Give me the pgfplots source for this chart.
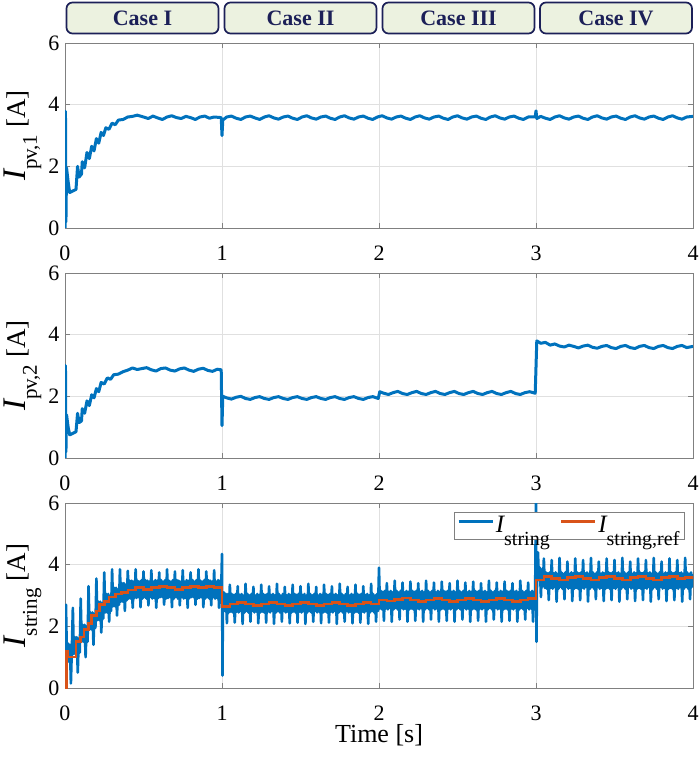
\documentclass[border=0pt]{standalone}
\usepackage{fontspec}
\setmainfont{Liberation Serif}
\usepackage{pgfplots}
\pgfplotsset{compat=1.18}
\definecolor{mblue}{RGB}{0,114,189}
\definecolor{morange}{RGB}{217,83,25}
\definecolor{boxfill}{RGB}{236,242,224}
\definecolor{boxdraw}{RGB}{28,32,88}
\newcommand{\ylab}[1]{{\fontsize{33}{33}\selectfont\itshape I}\raisebox{-11pt}{\fontsize{21}{21}\selectfont #1}\hspace{7pt}{\fontsize{27}{27}\selectfont [A]}}
\newcommand{\leg}[1]{{\fontsize{25}{25}\selectfont\itshape I}\raisebox{-13pt}{\fontsize{20}{20}\selectfont #1}}
\begin{document}
\begin{tikzpicture}[x=1pt,y=1pt]
\useasboundingbox (0,0) rectangle (699,762);
% Case boxes
\foreach \cx/\lab in {142.5/Case I, 300.5/Case II, 458.5/Case III, 616/Case IV}{
 \node[draw=boxdraw, line width=1.7pt, fill=boxfill, rounded corners=6pt,
       minimum width=152pt, minimum height=31pt, inner sep=0pt,
       text=boxdraw, font=\rmfamily\fontsize{22}{22}\selectfont\bfseries] at (\cx pt,744pt) {\lab};
}
% ---------------- top axis
\begin{axis}[scale only axis, width=628pt, height=185pt, anchor=south west, at={(65pt,534pt)},
  xmin=0,xmax=4,ymin=0,ymax=6, xtick={0,1,2,3,4}, ytick={0,2,4,6},
  grid=major, major grid style={black!12, line width=0.7pt},
  axis line style={black!50, line width=0.9pt}, tick style={black!50, line width=0.9pt},
  major tick length=5pt,
  x tick label style={font=\rmfamily\fontsize{22}{22}\selectfont, yshift=-14pt},
  y tick label style={font=\rmfamily\fontsize{22}{22}\selectfont, xshift=-2pt},
  ylabel={\ylab{pv,1}},
  ylabel style={at={(axis description cs:-0.0621,0.5)}, anchor=base},
  /pgf/number format/assume math mode=true]
\addplot[mblue, line width=3pt, line join=round] coordinates {
(0,0)(0.003,3.78)(0.006,0.2)(0.01,1.95)(0.02,1.5)(0.03,1.15)(0.05,1.2)(0.07,1.25)
(0.08,2.0)(0.09,1.65)(0.105,1.75)(0.11,2.15)(0.125,1.95)(0.14,2.45)(0.155,2.25)
(0.17,2.65)(0.185,2.5)(0.2,2.9)(0.215,2.75)(0.23,3.1)(0.245,3.0)(0.26,3.25)(0.28,3.2)
(0.3,3.4)(0.32,3.35)(0.34,3.5)(0.37,3.52)(0.4,3.6)(0.43,3.62)(0.46,3.66)
(0.5,3.6)(0.53,3.55)(0.56,3.63)(0.59,3.57)(0.62,3.52)(0.65,3.6)(0.68,3.64)(0.71,3.58)
(0.74,3.55)(0.77,3.62)(0.8,3.58)(0.83,3.52)(0.86,3.6)(0.89,3.63)(0.92,3.56)(0.95,3.6)
(0.995,3.58)(1.0,3.0)(1.005,3.5)(1.03,3.6)(1.06,3.63)(1.09,3.56)(1.12,3.52)(1.15,3.6)
(1.18,3.63)(1.21,3.57)(1.24,3.52)(1.27,3.6)(1.3,3.64)(1.33,3.57)(1.36,3.53)(1.39,3.6)
(1.42,3.63)(1.45,3.56)(1.48,3.52)(1.51,3.6)(1.54,3.64)(1.57,3.57)(1.6,3.53)(1.63,3.6)
(1.66,3.63)(1.69,3.56)(1.72,3.52)(1.75,3.6)(1.78,3.64)(1.81,3.57)(1.84,3.53)(1.87,3.6)
(1.9,3.63)(1.93,3.56)(1.96,3.52)(1.99,3.6)(2.02,3.64)(2.05,3.57)(2.08,3.53)(2.11,3.6)
(2.14,3.63)(2.17,3.56)(2.2,3.52)(2.23,3.6)(2.26,3.64)(2.29,3.57)(2.32,3.53)(2.35,3.6)
(2.38,3.63)(2.41,3.56)(2.44,3.52)(2.47,3.6)(2.5,3.64)(2.53,3.57)(2.56,3.53)(2.59,3.6)
(2.62,3.63)(2.65,3.56)(2.68,3.52)(2.71,3.6)(2.74,3.64)(2.77,3.57)(2.8,3.53)(2.83,3.6)
(2.86,3.63)(2.89,3.56)(2.92,3.52)(2.95,3.6)(2.995,3.6)(3.0,3.8)(3.005,3.55)(3.03,3.62)
(3.06,3.56)(3.09,3.52)(3.12,3.6)(3.15,3.64)(3.18,3.57)(3.21,3.53)(3.24,3.6)(3.27,3.63)
(3.3,3.56)(3.33,3.52)(3.36,3.6)(3.39,3.64)(3.42,3.57)(3.45,3.53)(3.48,3.6)(3.51,3.63)
(3.54,3.56)(3.57,3.52)(3.6,3.6)(3.63,3.64)(3.66,3.57)(3.69,3.53)(3.72,3.6)(3.75,3.63)
(3.78,3.56)(3.81,3.52)(3.84,3.6)(3.87,3.64)(3.9,3.57)(3.93,3.53)(3.96,3.6)(4.0,3.62)
};
\end{axis}
% ---------------- middle axis
\begin{axis}[scale only axis, width=628pt, height=185pt, anchor=south west, at={(65pt,304pt)},
  xmin=0,xmax=4,ymin=0,ymax=6, xtick={0,1,2,3,4}, ytick={0,2,4,6},
  grid=major, major grid style={black!12, line width=0.7pt},
  axis line style={black!50, line width=0.9pt}, tick style={black!50, line width=0.9pt},
  major tick length=5pt,
  x tick label style={font=\rmfamily\fontsize{22}{22}\selectfont, yshift=-14pt},
  y tick label style={font=\rmfamily\fontsize{22}{22}\selectfont, xshift=-2pt},
  ylabel={\ylab{pv,2}},
  ylabel style={at={(axis description cs:-0.0621,0.5)}, anchor=base},
  /pgf/number format/assume math mode=true]
\addplot[mblue, line width=3pt, line join=round] coordinates {
(0,0)(0.003,3.0)(0.006,0.2)(0.01,1.4)(0.02,1.0)(0.03,0.75)(0.05,0.8)(0.07,0.85)
(0.08,1.45)(0.09,1.15)(0.105,1.2)(0.11,1.6)(0.125,1.45)(0.14,1.85)(0.155,1.7)
(0.17,2.05)(0.185,1.95)(0.2,2.25)(0.215,2.15)(0.23,2.45)(0.25,2.4)(0.27,2.6)(0.29,2.55)
(0.31,2.7)(0.34,2.72)(0.37,2.8)(0.4,2.85)(0.43,2.92)(0.46,2.87)(0.49,2.9)(0.52,2.93)
(0.55,2.86)(0.58,2.82)(0.61,2.9)(0.64,2.92)(0.67,2.85)(0.7,2.82)(0.73,2.89)(0.76,2.92)
(0.79,2.85)(0.82,2.81)(0.85,2.88)(0.88,2.91)(0.91,2.84)(0.94,2.81)(0.97,2.88)(0.995,2.86)
(1.0,1.05)(1.005,2.0)(1.03,1.95)(1.06,1.91)(1.09,1.97)(1.12,2.0)(1.15,1.93)(1.18,1.9)
(1.21,1.96)(1.24,1.99)(1.27,1.93)(1.3,1.9)(1.33,1.96)(1.36,1.99)(1.39,1.93)(1.42,1.9)
(1.45,1.96)(1.48,1.99)(1.51,1.93)(1.54,1.9)(1.57,1.96)(1.6,1.99)(1.63,1.93)(1.66,1.9)
(1.69,1.96)(1.72,1.99)(1.75,1.93)(1.78,1.9)(1.81,1.96)(1.84,1.99)(1.87,1.93)(1.9,1.9)
(1.93,1.96)(1.96,1.99)(1.995,1.93)(2.005,2.15)(2.03,2.1)(2.06,2.06)(2.09,2.12)(2.12,2.16)
(2.15,2.09)(2.18,2.06)(2.21,2.12)(2.24,2.16)(2.27,2.09)(2.3,2.06)(2.33,2.12)(2.36,2.16)
(2.39,2.09)(2.42,2.06)(2.45,2.12)(2.48,2.16)(2.51,2.09)(2.54,2.06)(2.57,2.12)(2.6,2.16)
(2.63,2.09)(2.66,2.06)(2.69,2.12)(2.72,2.16)(2.75,2.09)(2.78,2.06)(2.81,2.12)(2.84,2.16)
(2.87,2.09)(2.9,2.06)(2.93,2.12)(2.96,2.15)(2.995,2.1)(3.005,3.8)(3.03,3.72)(3.06,3.75)
(3.09,3.66)(3.12,3.7)(3.15,3.63)(3.18,3.6)(3.21,3.66)(3.24,3.62)(3.27,3.57)(3.3,3.63)
(3.33,3.66)(3.36,3.59)(3.39,3.56)(3.42,3.62)(3.45,3.65)(3.48,3.58)(3.51,3.55)(3.54,3.62)
(3.57,3.65)(3.6,3.58)(3.63,3.55)(3.66,3.62)(3.69,3.65)(3.72,3.58)(3.75,3.55)(3.78,3.62)
(3.81,3.65)(3.84,3.58)(3.87,3.55)(3.9,3.62)(3.93,3.65)(3.96,3.58)(4.0,3.62)
};
\end{axis}
% ---------------- bottom axis
\begin{axis}[scale only axis, width=628pt, height=185pt, anchor=south west, at={(65pt,74pt)},
  xmin=0,xmax=4,ymin=0,ymax=6, xtick={0,1,2,3,4}, ytick={0,2,4,6},
  grid=major, major grid style={black!12, line width=0.7pt},
  axis line style={black!50, line width=0.9pt}, tick style={black!50, line width=0.9pt},
  major tick length=5pt,
  x tick label style={font=\rmfamily\fontsize{22}{22}\selectfont, yshift=-14pt},
  y tick label style={font=\rmfamily\fontsize{22}{22}\selectfont, xshift=-2pt},
  ylabel={\ylab{string}},
  ylabel style={at={(axis description cs:-0.0621,0.5)}, anchor=base},
  xlabel={Time [s]},
  xlabel style={at={(axis description cs:0.5,-0.254)}, anchor=center, font=\rmfamily\fontsize{26}{26}\selectfont},
  legend columns=2,
  legend style={at={(0.987,0.953)}, anchor=north east, draw=black!50, line width=0.8pt,
     fill=white, inner xsep=3pt, inner ysep=2.5pt, font=\rmfamily\fontsize{20}{20}\selectfont,
     /tikz/every even column/.append style={column sep=8pt}},
  legend image code/.code={\draw[#1, line width=2.6pt] (0pt,4pt) -- (34pt,4pt);},
  /pgf/number format/assume math mode=true]
\addplot[mblue, line width=2.6pt, line join=round] coordinates {
(0,0)(0.00625,2.7)(0.0125,0.9)(0.01875,1.45)(0.025,0.85)(0.03125,1.4)(0.0375,0.15)(0.04375,1.3)
(0.05,2.6)(0.05625,1.1)(0.0625,1.65)(0.06875,1.1)(0.075,1.65)(0.08125,0.5)(0.0875,1.6)(0.09375,1.15)
(0.1,2.9)(0.10625,1.5)(0.1125,2.05)(0.11875,1.5)(0.125,2.05)(0.13125,1.0)(0.1375,2.0)(0.14375,1.5)
(0.15,3.3)(0.15625,1.9)(0.1625,2.45)(0.16875,1.9)(0.175,2.45)(0.18125,1.4)(0.1875,2.4)(0.19375,1.95)
(0.2,3.55)(0.20625,2.2)(0.2125,2.8)(0.21875,2.2)(0.225,2.8)(0.23125,1.8)(0.2375,2.75)(0.24375,2.25)
(0.25,3.75)(0.25625,2.45)(0.2625,3.05)(0.26875,2.45)(0.275,3.05)(0.28125,2.15)(0.2875,3.0)(0.29375,2.5)
(0.3,3.85)(0.30625,2.65)(0.3125,3.25)(0.31875,2.65)(0.325,3.25)(0.33125,2.35)(0.3375,3.2)(0.34375,2.7)
(0.35,3.85)(0.35625,2.8)(0.3625,3.4)(0.36875,2.8)(0.375,3.4)(0.38125,2.5)(0.3875,3.35)(0.39375,2.85)
(0.4,3.8)(0.40625,2.9)(0.4125,3.48)(0.41875,2.9)(0.425,3.48)(0.43125,2.6)(0.4375,3.45)(0.44375,2.92)
(0.45,3.85)(0.45625,2.92)(0.4625,3.48)(0.46875,2.95)(0.475,3.45)(0.48125,2.62)(0.4875,3.5)(0.49375,2.9)
(0.5,3.78)(0.50625,2.95)(0.5125,3.5)(0.51875,2.9)(0.525,3.48)(0.53125,2.68)(0.5375,3.45)(0.54375,2.95)
(0.55,3.82)(0.55625,2.9)(0.5625,3.45)(0.56875,2.92)(0.575,3.5)(0.58125,2.6)(0.5875,3.48)(0.59375,2.92)
(0.6,3.75)(0.60625,2.95)(0.6125,3.5)(0.61875,2.95)(0.625,3.45)(0.63125,2.7)(0.6375,3.5)(0.64375,2.9)
(0.65,3.85)(0.65625,2.92)(0.6625,3.48)(0.66875,2.95)(0.675,3.45)(0.68125,2.62)(0.6875,3.5)(0.69375,2.9)
(0.7,3.78)(0.70625,2.95)(0.7125,3.5)(0.71875,2.9)(0.725,3.48)(0.73125,2.68)(0.7375,3.45)(0.74375,2.95)
(0.75,3.82)(0.75625,2.9)(0.7625,3.45)(0.76875,2.92)(0.775,3.5)(0.78125,2.6)(0.7875,3.48)(0.79375,2.92)
(0.8,3.75)(0.80625,2.95)(0.8125,3.5)(0.81875,2.95)(0.825,3.45)(0.83125,2.7)(0.8375,3.5)(0.84375,2.9)
(0.85,3.85)(0.85625,2.92)(0.8625,3.48)(0.86875,2.95)(0.875,3.45)(0.88125,2.62)(0.8875,3.5)(0.89375,2.9)
(0.9,3.78)(0.90625,2.95)(0.9125,3.5)(0.91875,2.9)(0.925,3.48)(0.93125,2.68)(0.9375,3.45)(0.94375,2.95)
(0.95,3.82)(0.95625,2.9)(0.9625,3.45)(0.96875,2.92)(0.975,3.5)(0.98125,2.6)(0.9875,3.48)(0.99375,2.92)
(1.0,4.35)(1.003,0.4)(1.00625,2.9)(1.0125,3.1)(1.01875,2.5)(1.025,3.05)(1.03125,2.1)(1.0375,3.05)(1.04375,2.45)
(1.05,3.35)(1.05625,2.48)(1.0625,3.05)(1.06875,2.45)(1.075,3.02)(1.08125,2.12)(1.0875,3.05)(1.09375,2.48)
(1.1,3.3)(1.10625,2.45)(1.1125,3.02)(1.11875,2.5)(1.125,3.05)(1.13125,2.08)(1.1375,3.0)(1.14375,2.45)
(1.15,3.38)(1.15625,2.5)(1.1625,3.05)(1.16875,2.45)(1.175,3.0)(1.18125,2.15)(1.1875,3.05)(1.19375,2.5)
(1.2,3.28)(1.20625,2.45)(1.2125,3.0)(1.21875,2.48)(1.225,3.05)(1.23125,2.1)(1.2375,3.02)(1.24375,2.45)
(1.25,3.35)(1.25625,2.48)(1.2625,3.05)(1.26875,2.45)(1.275,3.02)(1.28125,2.12)(1.2875,3.05)(1.29375,2.48)
(1.3,3.3)(1.30625,2.45)(1.3125,3.02)(1.31875,2.5)(1.325,3.05)(1.33125,2.08)(1.3375,3.0)(1.34375,2.45)
(1.35,3.38)(1.35625,2.5)(1.3625,3.05)(1.36875,2.45)(1.375,3.0)(1.38125,2.15)(1.3875,3.05)(1.39375,2.5)
(1.4,3.28)(1.40625,2.45)(1.4125,3.0)(1.41875,2.48)(1.425,3.05)(1.43125,2.1)(1.4375,3.02)(1.44375,2.45)
(1.45,3.35)(1.45625,2.48)(1.4625,3.05)(1.46875,2.45)(1.475,3.02)(1.48125,2.12)(1.4875,3.05)(1.49375,2.48)
(1.5,3.3)(1.50625,2.45)(1.5125,3.02)(1.51875,2.5)(1.525,3.05)(1.53125,2.08)(1.5375,3.0)(1.54375,2.45)
(1.55,3.38)(1.55625,2.5)(1.5625,3.05)(1.56875,2.45)(1.575,3.0)(1.58125,2.15)(1.5875,3.05)(1.59375,2.5)
(1.6,3.28)(1.60625,2.45)(1.6125,3.0)(1.61875,2.48)(1.625,3.05)(1.63125,2.1)(1.6375,3.02)(1.64375,2.45)
(1.65,3.35)(1.65625,2.48)(1.6625,3.05)(1.66875,2.45)(1.675,3.02)(1.68125,2.12)(1.6875,3.05)(1.69375,2.48)
(1.7,3.3)(1.70625,2.45)(1.7125,3.02)(1.71875,2.5)(1.725,3.05)(1.73125,2.08)(1.7375,3.0)(1.74375,2.45)
(1.75,3.38)(1.75625,2.5)(1.7625,3.05)(1.76875,2.45)(1.775,3.0)(1.78125,2.15)(1.7875,3.05)(1.79375,2.5)
(1.8,3.28)(1.80625,2.45)(1.8125,3.0)(1.81875,2.48)(1.825,3.05)(1.83125,2.1)(1.8375,3.02)(1.84375,2.45)
(1.85,3.35)(1.85625,2.48)(1.8625,3.05)(1.86875,2.45)(1.875,3.02)(1.88125,2.12)(1.8875,3.05)(1.89375,2.48)
(1.9,3.3)(1.90625,2.45)(1.9125,3.02)(1.91875,2.5)(1.925,3.05)(1.93125,2.08)(1.9375,3.0)(1.94375,2.45)
(1.95,3.38)(1.95625,2.5)(1.9625,3.05)(1.96875,2.45)(1.975,3.0)(1.98125,2.15)(1.9875,3.05)(1.99375,2.5)
(2.0,3.9)(2.00625,2.58)(2.0125,3.15)(2.01875,2.55)(2.025,3.12)(2.03125,2.18)(2.0375,3.15)(2.04375,2.58)
(2.05,3.4)(2.05625,2.55)(2.0625,3.12)(2.06875,2.6)(2.075,3.15)(2.08125,2.15)(2.0875,3.1)(2.09375,2.55)
(2.1,3.48)(2.10625,2.6)(2.1125,3.15)(2.11875,2.55)(2.125,3.1)(2.13125,2.22)(2.1375,3.15)(2.14375,2.6)
(2.15,3.42)(2.15625,2.55)(2.1625,3.1)(2.16875,2.58)(2.175,3.15)(2.18125,2.15)(2.1875,3.12)(2.19375,2.55)
(2.2,3.45)(2.20625,2.58)(2.2125,3.15)(2.21875,2.55)(2.225,3.12)(2.23125,2.18)(2.2375,3.15)(2.24375,2.58)
(2.25,3.4)(2.25625,2.55)(2.2625,3.12)(2.26875,2.6)(2.275,3.15)(2.28125,2.15)(2.2875,3.1)(2.29375,2.55)
(2.3,3.48)(2.30625,2.6)(2.3125,3.15)(2.31875,2.55)(2.325,3.1)(2.33125,2.22)(2.3375,3.15)(2.34375,2.6)
(2.35,3.42)(2.35625,2.55)(2.3625,3.1)(2.36875,2.58)(2.375,3.15)(2.38125,2.15)(2.3875,3.12)(2.39375,2.55)
(2.4,3.45)(2.40625,2.58)(2.4125,3.15)(2.41875,2.55)(2.425,3.12)(2.43125,2.18)(2.4375,3.15)(2.44375,2.58)
(2.45,3.4)(2.45625,2.55)(2.4625,3.12)(2.46875,2.6)(2.475,3.15)(2.48125,2.15)(2.4875,3.1)(2.49375,2.55)
(2.5,3.48)(2.50625,2.6)(2.5125,3.15)(2.51875,2.55)(2.525,3.1)(2.53125,2.22)(2.5375,3.15)(2.54375,2.6)
(2.55,3.42)(2.55625,2.55)(2.5625,3.1)(2.56875,2.58)(2.575,3.15)(2.58125,2.15)(2.5875,3.12)(2.59375,2.55)
(2.6,3.45)(2.60625,2.58)(2.6125,3.15)(2.61875,2.55)(2.625,3.12)(2.63125,2.18)(2.6375,3.15)(2.64375,2.58)
(2.65,3.4)(2.65625,2.55)(2.6625,3.12)(2.66875,2.6)(2.675,3.15)(2.68125,2.15)(2.6875,3.1)(2.69375,2.55)
(2.7,3.48)(2.70625,2.6)(2.7125,3.15)(2.71875,2.55)(2.725,3.1)(2.73125,2.22)(2.7375,3.15)(2.74375,2.6)
(2.75,3.42)(2.75625,2.55)(2.7625,3.1)(2.76875,2.58)(2.775,3.15)(2.78125,2.15)(2.7875,3.12)(2.79375,2.55)
(2.8,3.45)(2.80625,2.58)(2.8125,3.15)(2.81875,2.55)(2.825,3.12)(2.83125,2.18)(2.8375,3.15)(2.84375,2.58)
(2.85,3.4)(2.85625,2.55)(2.8625,3.12)(2.86875,2.6)(2.875,3.15)(2.88125,2.15)(2.8875,3.1)(2.89375,2.55)
(2.9,3.48)(2.90625,2.6)(2.9125,3.15)(2.91875,2.55)(2.925,3.1)(2.93125,2.22)(2.9375,3.15)(2.94375,2.6)
(2.95,3.42)(2.95625,2.55)(2.9625,3.1)(2.96875,2.58)(2.975,3.15)(2.98125,2.15)(2.9875,3.12)(2.99375,2.55)
(3.0,6.5)(3.003,1.5)(3.00625,3.4)(3.0125,4.4)(3.01875,3.5)(3.025,3.9)(3.03125,2.95)(3.0375,3.85)(3.04375,3.3)
(3.05,4.2)(3.05625,3.25)(3.0625,3.75)(3.06875,3.22)(3.075,3.72)(3.08125,2.85)(3.0875,3.75)(3.09375,3.25)
(3.1,4.15)(3.10625,3.22)(3.1125,3.72)(3.11875,3.28)(3.125,3.75)(3.13125,2.8)(3.1375,3.7)(3.14375,3.22)
(3.15,4.22)(3.15625,3.28)(3.1625,3.75)(3.16875,3.22)(3.175,3.7)(3.18125,2.88)(3.1875,3.75)(3.19375,3.28)
(3.2,4.1)(3.20625,3.22)(3.2125,3.7)(3.21875,3.25)(3.225,3.75)(3.23125,2.82)(3.2375,3.72)(3.24375,3.22)
(3.25,4.2)(3.25625,3.25)(3.2625,3.75)(3.26875,3.22)(3.275,3.72)(3.28125,2.85)(3.2875,3.75)(3.29375,3.25)
(3.3,4.15)(3.30625,3.22)(3.3125,3.72)(3.31875,3.28)(3.325,3.75)(3.33125,2.8)(3.3375,3.7)(3.34375,3.22)
(3.35,4.22)(3.35625,3.28)(3.3625,3.75)(3.36875,3.22)(3.375,3.7)(3.38125,2.88)(3.3875,3.75)(3.39375,3.28)
(3.4,4.1)(3.40625,3.22)(3.4125,3.7)(3.41875,3.25)(3.425,3.75)(3.43125,2.82)(3.4375,3.72)(3.44375,3.22)
(3.45,4.2)(3.45625,3.25)(3.4625,3.75)(3.46875,3.22)(3.475,3.72)(3.48125,2.85)(3.4875,3.75)(3.49375,3.25)
(3.5,4.15)(3.50625,3.22)(3.5125,3.72)(3.51875,3.28)(3.525,3.75)(3.53125,2.8)(3.5375,3.7)(3.54375,3.22)
(3.55,4.22)(3.55625,3.28)(3.5625,3.75)(3.56875,3.22)(3.575,3.7)(3.58125,2.88)(3.5875,3.75)(3.59375,3.28)
(3.6,4.1)(3.60625,3.22)(3.6125,3.7)(3.61875,3.25)(3.625,3.75)(3.63125,2.82)(3.6375,3.72)(3.64375,3.22)
(3.65,4.2)(3.65625,3.25)(3.6625,3.75)(3.66875,3.22)(3.675,3.72)(3.68125,2.85)(3.6875,3.75)(3.69375,3.25)
(3.7,4.15)(3.70625,3.22)(3.7125,3.72)(3.71875,3.28)(3.725,3.75)(3.73125,2.8)(3.7375,3.7)(3.74375,3.22)
(3.75,4.22)(3.75625,3.28)(3.7625,3.75)(3.76875,3.22)(3.775,3.7)(3.78125,2.88)(3.7875,3.75)(3.79375,3.28)
(3.8,4.1)(3.80625,3.22)(3.8125,3.7)(3.81875,3.25)(3.825,3.75)(3.83125,2.82)(3.8375,3.72)(3.84375,3.22)
(3.85,4.2)(3.85625,3.25)(3.8625,3.75)(3.86875,3.22)(3.875,3.72)(3.88125,2.85)(3.8875,3.75)(3.89375,3.25)
(3.9,4.15)(3.90625,3.22)(3.9125,3.72)(3.91875,3.28)(3.925,3.75)(3.93125,2.8)(3.9375,3.7)(3.94375,3.22)
(3.95,4.22)(3.95625,3.28)(3.9625,3.75)(3.96875,3.22)(3.975,3.7)(3.98125,2.88)(3.9875,3.75)(3.99375,3.28)
(4.0,3.7)
};
\addlegendentry{\leg{string}}
\addplot[morange, line width=2.6pt, const plot] coordinates {
(0,0)(0.01,1.2)(0.02,1.0)(0.07,1.5)(0.1,1.65)(0.12,1.9)(0.15,2.1)(0.17,2.35)(0.2,2.5)
(0.22,2.7)(0.25,2.8)(0.28,2.95)(0.32,3.05)(0.36,3.1)(0.4,3.18)(0.45,3.25)(0.5,3.2)
(0.55,3.25)(0.6,3.3)(0.65,3.25)(0.7,3.2)(0.75,3.25)(0.8,3.3)(0.85,3.25)(0.9,3.3)(0.95,3.25)
(1.0,2.65)(1.05,2.72)(1.1,2.78)(1.15,2.72)(1.2,2.68)(1.25,2.72)(1.3,2.78)(1.35,2.72)
(1.4,2.68)(1.45,2.72)(1.5,2.78)(1.55,2.72)(1.6,2.68)(1.65,2.72)(1.7,2.78)(1.75,2.72)
(1.8,2.68)(1.85,2.72)(1.9,2.78)(1.95,2.72)(2.0,2.85)(2.05,2.82)(2.1,2.88)(2.15,2.92)
(2.2,2.85)(2.25,2.8)(2.3,2.85)(2.35,2.9)(2.4,2.85)(2.45,2.8)(2.5,2.85)(2.55,2.9)(2.6,2.85)
(2.65,2.8)(2.7,2.85)(2.75,2.9)(2.8,2.85)(2.85,2.8)(2.9,2.85)(2.95,2.9)(3.0,3.5)(3.05,3.62)
(3.1,3.55)(3.15,3.5)(3.2,3.58)(3.25,3.62)(3.3,3.55)(3.35,3.5)(3.4,3.58)(3.45,3.62)(3.5,3.55)
(3.55,3.5)(3.6,3.58)(3.65,3.62)(3.7,3.55)(3.75,3.5)(3.8,3.58)(3.85,3.62)(3.9,3.55)(3.95,3.58)(4.0,3.6)
};
\addlegendentry{\leg{string,ref}}
\end{axis}
\end{tikzpicture}
\end{document}
